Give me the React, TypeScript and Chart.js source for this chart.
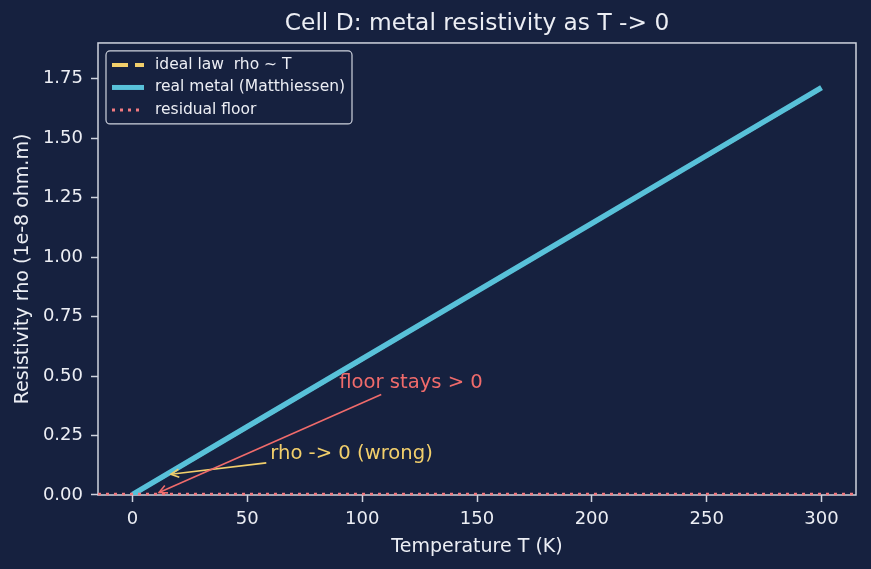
import React, { useEffect, useRef } from "react";
import { Chart, registerables } from "chart.js";

Chart.register(...registerables);

// Temperature samples (K) and resistivity values (1e-8 ohm.m)
const temperatures = [0, 50, 100, 150, 200, 250, 300];
const idealRho = [0, 0.285, 0.57, 0.855, 1.14, 1.425, 1.71];
const realRho = [0.002, 0.287, 0.572, 0.857, 1.142, 1.427, 1.712];
const residualFloor = 0.004;
const floorSpan = [-15, 315];

const xLimits = [-15, 315];
const yLimits = [0, 1.9];
const xTickStep = 50;
const yTickStep = 0.25;

const seriesLabels = ["ideal law  rho ~ T", "real metal (Matthiessen)", "residual floor"];

// Annotations: text, text anchor (data), arrow target (data)
const noteTexts = ["rho -> 0 (wrong)", "floor stays > 0"];
const noteAnchors = [
  [60, 0.15],
  [90, 0.45],
];
const noteTargets = [
  [15, 0.0855],
  [10, 0.004],
];

const BG = "#16213f";
const FG = "#eceef4";
const FRAME = "#cfd3de";
const YELLOW = "#f2cf6b";
const CYAN = "#58c1d9";
const RED = "#f06b6b";
const FLOOR = "#f27a80";
const FONT = "'DejaVu Sans', sans-serif";
const noteColors = [YELLOW, RED];

const framePlugin = {
  id: "frame",
  beforeDatasetsDraw(chart: any) {
    const { ctx, chartArea } = chart;
    ctx.save();
    ctx.strokeStyle = FRAME;
    ctx.lineWidth = 1.5;
    ctx.strokeRect(chartArea.left, chartArea.top, chartArea.right - chartArea.left, chartArea.bottom - chartArea.top);
    ctx.restore();
  },
};

const legendPlugin = {
  id: "boxLegend",
  afterDraw(chart: any) {
    const { ctx, chartArea } = chart;
    const x0 = chartArea.left + 8;
    const y0 = chartArea.top + 8;
    const w = 246;
    const h = 73;
    ctx.save();
    ctx.beginPath();
    ctx.roundRect(x0, y0, w, h, 4);
    ctx.fillStyle = "rgba(22,33,63,0.85)";
    ctx.fill();
    ctx.strokeStyle = FRAME;
    ctx.lineWidth = 1.2;
    ctx.stroke();
    const styles = [
      { color: YELLOW, width: 4, dash: [16, 7] },
      { color: CYAN, width: 5, dash: [] },
      { color: FLOOR, width: 3, dash: [3, 5] },
    ];
    ctx.font = `15.5px ${FONT}`;
    ctx.textBaseline = "middle";
    seriesLabels.forEach((label, i) => {
      const cy = y0 + 14 + i * 22.5;
      const s = styles[i];
      ctx.beginPath();
      ctx.setLineDash(s.dash);
      ctx.lineCap = "butt";
      ctx.strokeStyle = s.color;
      ctx.lineWidth = s.width;
      ctx.moveTo(x0 + 6, cy);
      ctx.lineTo(x0 + 38, cy);
      ctx.stroke();
      ctx.setLineDash([]);
      ctx.fillStyle = FG;
      ctx.fillText(label, x0 + 49, cy);
    });
    ctx.restore();
  },
};

const notesPlugin = {
  id: "notes",
  afterDatasetsDraw(chart: any) {
    const { ctx } = chart;
    const xs = chart.scales.x;
    const ys = chart.scales.y;
    ctx.save();
    ctx.font = `19.6px ${FONT}`;
    ctx.textBaseline = "alphabetic";
    noteTexts.forEach((text, i) => {
      const tx = xs.getPixelForValue(noteAnchors[i][0]);
      const ty = ys.getPixelForValue(noteAnchors[i][1]);
      const px = xs.getPixelForValue(noteTargets[i][0]);
      const py = ys.getPixelForValue(noteTargets[i][1]);
      const m = ctx.measureText(text);
      const left = tx;
      const right = tx + m.width;
      const top = ty - m.fontBoundingBoxAscent;
      const bottom = ty + m.fontBoundingBoxDescent;
      const cx = (left + right) / 2;
      const cy = (top + bottom) / 2;
      // clip the center-to-target line at the text box
      const dx = px - cx;
      const dy = py - cy;
      let t = 1;
      if (dx !== 0) t = Math.min(t, Math.abs(((dx > 0 ? right : left) - cx) / dx));
      if (dy !== 0) t = Math.min(t, Math.abs(((dy > 0 ? bottom : top) - cy) / dy));
      let sx = cx + dx * t;
      let sy = cy + dy * t;
      const len = Math.hypot(px - sx, py - sy);
      const ux = (px - sx) / len;
      const uy = (py - sy) / len;
      sx += ux * 4;
      sy += uy * 4;
      const ex = px - ux * 4;
      const ey = py - uy * 4;
      ctx.strokeStyle = noteColors[i];
      ctx.lineWidth = 1.6;
      ctx.lineCap = "butt";
      ctx.beginPath();
      ctx.moveTo(sx, sy);
      ctx.lineTo(ex, ey);
      ctx.stroke();
      const hl = 8;
      const hw = 4;
      ctx.beginPath();
      ctx.moveTo(ex - ux * hl - uy * hw, ey - uy * hl + ux * hw);
      ctx.lineTo(ex, ey);
      ctx.lineTo(ex - ux * hl + uy * hw, ey - uy * hl - ux * hw);
      ctx.stroke();
      ctx.fillStyle = noteColors[i];
      ctx.fillText(text, tx, ty);
    });
    ctx.restore();
  },
};

export default function App() {
  const canvasRef = useRef<HTMLCanvasElement | null>(null);

  useEffect(() => {
    document.body.style.margin = "0";
    const canvas = canvasRef.current;
    if (!canvas) return;
    const chart = new Chart(canvas, {
      type: "line",
      data: {
        datasets: [
          {
            label: seriesLabels[0],
            data: temperatures.map((t, i) => ({ x: t, y: idealRho[i] })),
            borderColor: YELLOW,
            borderWidth: 3.5,
            borderDash: [16, 7],
            pointRadius: 0,
            order: 2,
          },
          {
            label: seriesLabels[1],
            data: temperatures.map((t, i) => ({ x: t, y: realRho[i] })),
            borderColor: CYAN,
            borderWidth: 5.5,
            borderCapStyle: "butt",
            pointRadius: 0,
            order: 1,
          },
          {
            label: seriesLabels[2],
            data: floorSpan.map((t) => ({ x: t, y: residualFloor })),
            borderColor: FLOOR,
            borderWidth: 2.5,
            borderDash: [3, 5],
            pointRadius: 0,
            clip: 4,
            order: 0,
          },
        ],
      },
      options: {
        animation: false,
        responsive: false,
        devicePixelRatio: 1,
        layout: { padding: { left: 0, right: 15, top: 0, bottom: 0 } },
        plugins: {
          legend: { display: false },
          tooltip: { enabled: false },
          title: {
            display: true,
            text: "Cell D: metal resistivity as T -> 0",
            color: FG,
            fullSize: false,
            font: { family: FONT, size: 23.3, weight: "normal" },
            padding: { top: 10, bottom: 5 },
          },
        },
        scales: {
          x: {
            type: "linear",
            min: xLimits[0],
            max: xLimits[1],
            afterFit: (s: any) => {
              s.height = 74;
            },
            ticks: {
              stepSize: xTickStep,
              includeBounds: false,
              color: FG,
              font: { family: FONT, size: 18 },
              padding: 7,
              maxRotation: 0,
            },
            grid: {
              drawOnChartArea: false,
              drawTicks: true,
              tickLength: 7,
              tickWidth: 1.5,
              tickColor: FRAME,
            },
            border: { display: false },
            title: {
              display: true,
              text: "Temperature T (K)",
              color: FG,
              font: { family: FONT, size: 19 },
              padding: { top: 11, bottom: 11 },
            },
          },
          y: {
            type: "linear",
            min: yLimits[0],
            max: yLimits[1],
            afterFit: (s: any) => {
              s.width = 98;
            },
            ticks: {
              stepSize: yTickStep,
              includeBounds: false,
              color: FG,
              font: { family: FONT, size: 18 },
              padding: 8,
              callback: (v: any) => Number(v).toFixed(2),
            },
            grid: {
              drawOnChartArea: false,
              drawTicks: true,
              tickLength: 7,
              tickWidth: 1.5,
              tickColor: FRAME,
            },
            border: { display: false },
            title: {
              display: true,
              text: "Resistivity rho (1e-8 ohm.m)",
              color: FG,
              font: { family: FONT, size: 19 },
              padding: { top: 12, bottom: 12 },
            },
          },
        },
      } as any,
      plugins: [framePlugin, notesPlugin, legendPlugin],
    });
    return () => chart.destroy();
  }, []);

  return (
    <div style={{ position: "absolute", left: 0, top: 0, width: 871, height: 569, background: BG }}>
      <canvas ref={canvasRef} width={871} height={569} />
    </div>
  );
}
